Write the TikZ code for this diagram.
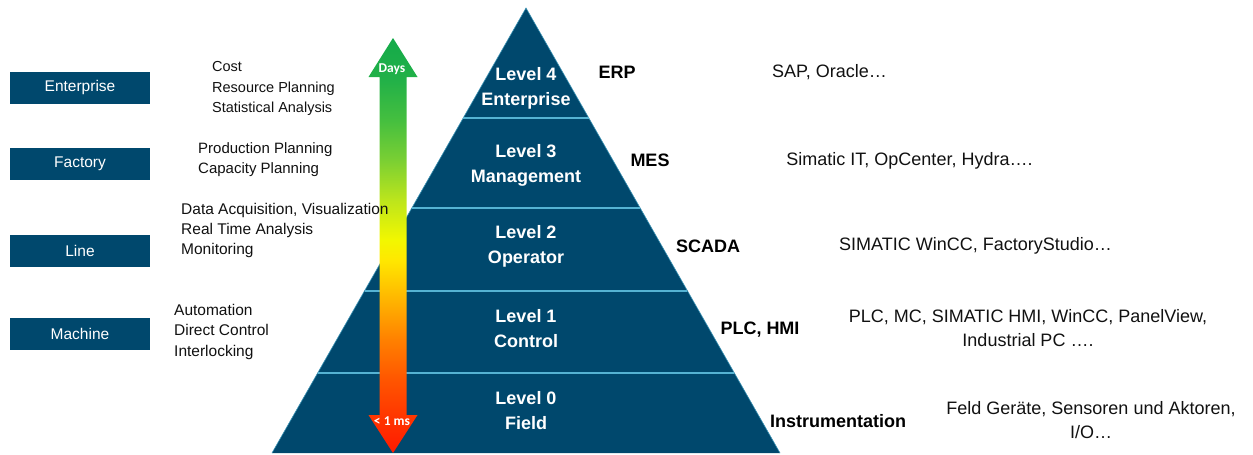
\documentclass[tikz,border=0pt]{standalone}
\usepackage{fontspec}
\setmainfont{Liberation Sans}
\newfontfamily\narrowbold{Carlito}[BoldFont={* Bold}]
\usetikzlibrary{calc}

\definecolor{pyrblue}{HTML}{00486D}
\definecolor{sepblue}{HTML}{55B3D3}
\definecolor{ink}{HTML}{111111}

% time-scale gradient: red (fast, bottom) to green (slow, top)
\definecolor{ts0}{HTML}{FF1A00}
\definecolor{ts1}{HTML}{FF3300}
\definecolor{ts2}{HTML}{FF5500}
\definecolor{ts3}{HTML}{FF8000}
\definecolor{ts4}{HTML}{FFB400}
\definecolor{ts5}{HTML}{FFE800}
\definecolor{ts6}{HTML}{F2F700}
\definecolor{ts7}{HTML}{BCE51C}
\definecolor{ts8}{HTML}{7ACF33}
\definecolor{ts9}{HTML}{45BF3F}
\definecolor{ts10}{HTML}{22B148}
\definecolor{ts11}{HTML}{14AA4A}
\pgfdeclareverticalshading{timescale}{100bp}{%
  color(0bp)=(ts0);
  color(25bp)=(ts0);
  color(29bp)=(ts1);
  color(33.8bp)=(ts2);
  color(38.6bp)=(ts3);
  color(43.4bp)=(ts4);
  color(48.3bp)=(ts5);
  color(50.7bp)=(ts6);
  color(55.5bp)=(ts7);
  color(60.3bp)=(ts8);
  color(65.1bp)=(ts9);
  color(69.9bp)=(ts10);
  color(75bp)=(ts11);
  color(100bp)=(ts11)}

\tikzset{
  levelbox/.style={fill=pyrblue, minimum width=140pt, minimum height=32pt,
    inner sep=0pt, text=white, font=\fontsize{15.5}{18}\selectfont},
  tasks/.style={anchor=west, align=left, inner sep=0pt, text=ink,
    font=\fontsize{15.5}{20.5}\selectfont},
  leveltxt/.style={align=center, inner sep=0pt, text=white,
    font=\fontsize{18}{25}\selectfont\bfseries},
  systxt/.style={inner sep=0pt, text=black, font=\fontsize{18}{22}\selectfont\bfseries},
  prodtxt/.style={align=center, inner sep=0pt, text=ink,
    font=\fontsize{18}{24}\selectfont},
  scaletxt/.style={inner sep=0pt, text=white, font=\fontsize{13.5}{15}\selectfont\narrowbold\bfseries},
  sepline/.style={draw=sepblue, line width=2pt}
}

\begin{document}
\begin{tikzpicture}[x=1pt, y=-1pt]
\useasboundingbox (0,0) rectangle (1253,455);

% pyramid body
\coordinate (apex) at (526,8);
\coordinate (bl) at (272,453);
\coordinate (br) at (780,453);
\fill[pyrblue] (apex) -- (br) -- (bl) -- cycle;
\draw[sepblue!70!pyrblue, line width=0.6pt] (bl) -- (apex) -- (br);

% level separators, ending on the pyramid flanks
\foreach \yy/\hw in {118/62.8, 208/114.2, 290.5/161.2, 373/208.3}{
  \draw[sepline] ({526-\hw},\yy) -- ({526+\hw},\yy);
}

% level captions
\node[leveltxt] (l4) at (526,88.5)  {Level 4\\Enterprise};
\node[leveltxt] (l3) at (526,165.5) {Level 3\\Management};
\node[leveltxt] (l2) at (526,246.5) {Level 2\\Operator};
\node[leveltxt] (l1) at (526,328.5) {Level 1\\Control};
\node[leveltxt] (l0) at (526,410.5) {Level 0\\Field};

% system classes
\node[systxt] (erp)   at (617,72)  {ERP};
\node[systxt] (mes)   at (650,160) {MES};
\node[systxt] (scada) at (708,246) {SCADA};
\node[systxt] (plc)   at (760,330) {PLC, HMI};
\node[systxt] (instr) at (838,421) {Instrumentation};

% example products
\node[prodtxt] (p4) at (829.5,72)  {SAP, Oracle…};
\node[prodtxt] (p3) at (909.5,161) {Simatic IT, OpCenter, Hydra….};
\node[prodtxt] (p2) at (975.5,246) {SIMATIC WinCC, FactoryStudio…};
\node[prodtxt] (p1) at (1028,328)  {PLC, MC, SIMATIC HMI, WinCC, PanelView,\\Industrial PC ….};
\node[prodtxt] (p0) at (1091,420)  {Feld Geräte, Sensoren und Aktoren,\\I/O…};

% time-scale double arrow
\shade[shading=timescale]
  (393,38) -- (417.5,77) -- (406.5,77) -- (406.5,415) -- (417.5,415)
  -- (393,453) -- (368.5,415) -- (379.5,415) -- (379.5,77) -- (368.5,77) -- cycle;
\node[scaletxt] (days) at (392,69)  {Days};
\node[scaletxt] (ms)   at (392,421) {< 1 ms};

% organisational scope boxes
\node[levelbox] (ent)  at (80,87.5)  {Enterprise};
\node[levelbox] (fac)  at (80,164) {Factory};
\node[levelbox] (line) at (80,251) {Line};
\node[levelbox] (mach) at (80,334) {Machine};

% tasks per scope
\node[tasks, font=\fontsize{14.5}{20.5}\selectfont] (t4) at (212,88.5) {Cost\\Resource Planning\\Statistical Analysis};
\node[tasks, font=\fontsize{15}{20.5}\selectfont] (t3) at (198,159.5) {Production Planning\\Capacity Planning};
\node[tasks, font=\fontsize{15.5}{20}\selectfont] (t2) at (181,230) {Data Acquisition, Visualization\\Real Time Analysis\\Monitoring};
\node[tasks] (t1) at (174,331.5) {Automation\\Direct Control\\Interlocking};
\end{tikzpicture}
\end{document}
